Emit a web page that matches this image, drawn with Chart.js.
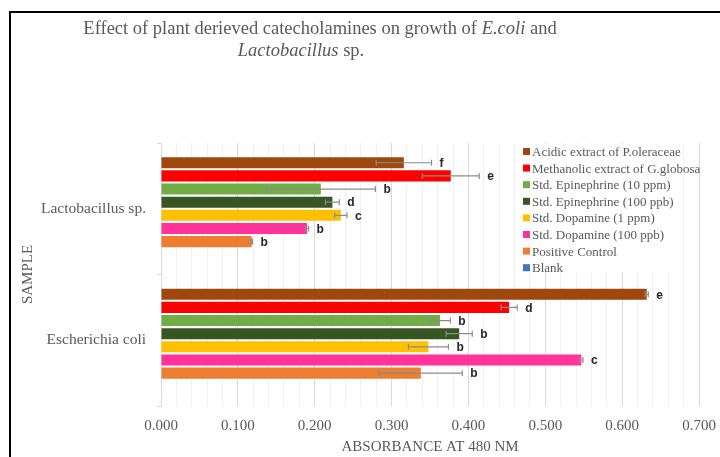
<!DOCTYPE html>
<html>
<head>
<meta charset="utf-8">
<script src="https://cdn.jsdelivr.net/npm/chart.js@4.4.0/dist/chart.umd.min.js"></script>
<style>
    body { margin: 0; background: #fff; }
    #wrap { position: relative; width: 720px; height: 457px; overflow: hidden; }
    #frame { position: absolute; left: 9px; top: 11px; width: 760px; height: 500px; border: 2px solid #000; pointer-events: none; }
</style>
</head>
<body>
<div id="wrap">
    <canvas id="chart" width="720" height="457"></canvas>
    <div id="frame"></div>
</div>
<script>
// categories, top to bottom
const categories = ['Lactobacillus sp.', 'Escherichia coli'];

// series, top to bottom inside each group (same order as the legend)
const seriesNames = [
    'Acidic extract of P.oleraceae',
    'Methanolic extract of G.globosa',
    'Std. Epinephrine (10 ppm)',
    'Std. Epinephrine (100 ppb)',
    'Std. Dopamine (1 ppm)',
    'Std. Dopamine (100 ppb)',
    'Positive Control',
    'Blank'
];
const seriesColors = ['#9E480E', '#FF0000', '#70AD47', '#375623', '#FFC000', '#FF3399', '#ED7D31', '#4472C4'];

// absorbance means, errors and significance letters per category
const lactoMeans = [0.316, 0.377, 0.208, 0.223, 0.234, 0.190, 0.118, 0];
const lactoErrors = [0.036, 0.037, 0.071, 0.009, 0.008, 0.002, 0.001, 0];
const lactoLetters = ['f', 'e', 'b', 'd', 'c', 'b', 'b', ''];

const ecoliMeans = [0.632, 0.453, 0.363, 0.388, 0.348, 0.547, 0.338, 0];
const ecoliErrors = [0.002, 0.0105, 0.0135, 0.017, 0.026, 0.002, 0.054, 0];
const ecoliLetters = ['e', 'd', 'b', 'b', 'b', 'c', 'b', ''];

const serif = "'Liberation Serif', 'Times New Roman', serif";
const textGray = '#595959';

const titleLines = [
    [['Effect of plant derieved catecholamines on growth of ', false], ['E.coli', true], [' and', false]],
    [['Lactobacillus', true], [' sp.', false]]
];

const datasets = seriesNames.map((name, i) => ({
    label: name,
    data: [lactoMeans[i], ecoliMeans[i]],
    errors: [lactoErrors[i], ecoliErrors[i]],
    letters: [lactoLetters[i], ecoliLetters[i]],
    backgroundColor: seriesColors[i],
    borderWidth: 0,
    categoryPercentage: 0.8,
    barPercentage: 0.84
}));

// error bars + letters
const errorBarPlugin = {
    id: 'errorBars',
    afterDatasetsDraw(chart) {
        const ctx = chart.ctx;
        const x = chart.scales.x;
        ctx.save();
        chart.data.datasets.forEach((ds, i) => {
            const meta = chart.getDatasetMeta(i);
            meta.data.forEach((bar, j) => {
                const mean = ds.data[j];
                if (!mean) return;
                const err = ds.errors[j];
                const x0 = x.getPixelForValue(mean - err);
                const x1 = x.getPixelForValue(mean + err);
                const y = bar.y;
                ctx.strokeStyle = '#8c8c8c';
                ctx.lineWidth = 1.2;
                ctx.beginPath();
                ctx.moveTo(x0, y); ctx.lineTo(x1, y);
                ctx.moveTo(x0, y - 3); ctx.lineTo(x0, y + 3);
                ctx.moveTo(x1, y - 3); ctx.lineTo(x1, y + 3);
                ctx.stroke();
                ctx.fillStyle = '#262626';
                ctx.font = "bold 12px 'Liberation Sans', Arial, sans-serif";
                ctx.textAlign = 'left';
                ctx.textBaseline = 'middle';
                ctx.fillText(ds.letters[j], x1 + 8, y + 1);
            });
        });
        ctx.restore();
    }
};

// legend inside the plot, on the right
const sideLegendPlugin = {
    id: 'sideLegend',
    afterDraw(chart) {
        const ctx = chart.ctx;
        ctx.save();
        ctx.fillStyle = '#fff';
        ctx.fillRect(518, 144, 162, 128);
        ctx.font = '13px ' + serif;
        ctx.textBaseline = 'middle';
        ctx.textAlign = 'left';
        chart.data.datasets.forEach((ds, i) => {
            const y = 151.5 + i * 16.6;
            ctx.fillStyle = ds.backgroundColor;
            ctx.fillRect(523, y - 3.5, 7, 7);
            ctx.fillStyle = textGray;
            ctx.fillText(ds.label, 532, y + 1);
        });
        ctx.restore();
    }
};

// two line title with italic parts
const richTitlePlugin = {
    id: 'richTitle',
    afterDraw(chart) {
        const ctx = chart.ctx;
        const centers = [320, 301];
        const ys = [29, 51];
        ctx.save();
        ctx.fillStyle = textGray;
        ctx.textBaseline = 'middle';
        ctx.textAlign = 'left';
        titleLines.forEach((runs, k) => {
            let total = 0;
            runs.forEach(([t, it]) => {
                ctx.font = (it ? 'italic ' : '') + '18.5px ' + serif;
                total += ctx.measureText(t).width;
            });
            let xPos = centers[k] - total / 2;
            runs.forEach(([t, it]) => {
                ctx.font = (it ? 'italic ' : '') + '18.5px ' + serif;
                ctx.fillText(t, xPos, ys[k]);
                xPos += ctx.measureText(t).width;
            });
        });
        ctx.restore();
    }
};

function isMajor(v) {
    return Math.round(v * 100) % 10 === 0;
}

new Chart(document.getElementById('chart'), {
    type: 'bar',
    data: { labels: categories, datasets: datasets },
    options: {
        indexAxis: 'y',
        responsive: false,
        animation: false,
        layout: { padding: { top: 143, right: 21, left: 0, bottom: 0 } },
        plugins: {
            legend: { display: false },
            title: { display: false },
            tooltip: { enabled: false }
        },
        scales: {
            x: {
                min: 0,
                max: 0.7,
                afterFit(scale) {
                    scale.height = 51;
                    scale.paddingLeft = 0;
                    scale.paddingRight = 0;
                },
                border: { display: false },
                grid: {
                    drawTicks: false,
                    color: ctx => isMajor(ctx.tick.value) ? '#d9d9d9' : '#f0f0f0'
                },
                ticks: {
                    stepSize: 0.02,
                    autoSkip: false,
                    maxRotation: 0,
                    padding: 11,
                    color: textGray,
                    font: { family: serif, size: 15 },
                    callback: v => isMajor(v) ? v.toFixed(3) : ''
                },
                title: {
                    display: true,
                    text: 'ABSORBANCE AT 480 NM',
                    color: textGray,
                    font: { family: serif, size: 15 },
                    padding: { top: 0, bottom: 1 }
                }
            },
            y: {
                afterFit(scale) { scale.width = 161; },
                border: { display: true, color: '#d9d9d9' },
                grid: {
                    drawOnChartArea: false,
                    offset: true,
                    tickLength: 4,
                    color: '#d9d9d9'
                },
                ticks: {
                    padding: 11,
                    color: textGray,
                    font: { family: serif, size: 15.5 }
                },
                title: {
                    display: true,
                    text: 'SAMPLE',
                    color: textGray,
                    font: { family: serif, size: 15 },
                    padding: { top: 19, bottom: 0 }
                }
            }
        }
    },
    plugins: [errorBarPlugin, sideLegendPlugin, richTitlePlugin]
});
</script>
</body>
</html>
